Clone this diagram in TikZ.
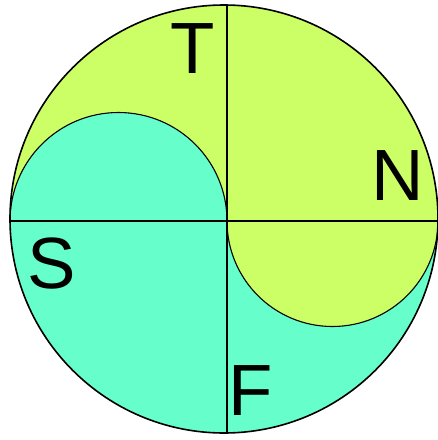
\documentclass[tikz,border=0pt]{standalone}
\usepackage{fontspec}
\setmainfont{Liberation Sans}
\usetikzlibrary{positioning}
\definecolor{tfLime}{HTML}{CCFF66}
\definecolor{tfAqua}{HTML}{66FFCC}
\tikzset{
  rimline/.style   = {black, line width=1.6pt},
  splitline/.style = {black, line width=1.1pt},
  letter/.style    = {inner sep=0pt, font=\fontsize{72.6}{80}\selectfont},
}
\begin{document}
\begin{tikzpicture}[x=1pt, y=-1pt]
  \useasboundingbox (0,0) rectangle (438,440);
  % whole disc in aqua, upper half in lime
  \fill[tfAqua] (224,219) circle (214);
  \begin{scope}
    \clip (224,219) circle (214);
    \fill[tfLime] (0,0) rectangle (438,221);
  \end{scope}
  % the two small half discs (y axis points down)
  \fill[tfAqua] (10,221) arc[start angle=180, end angle=360, radius=108.5] -- cycle;
  \fill[tfLime] (227,221) arc[start angle=180, end angle=0, radius=105.5] -- cycle;
  % outlines
  \draw[splitline] (10,221) arc[start angle=180, end angle=360, radius=108.5];
  \draw[splitline] (227,221) arc[start angle=180, end angle=0, radius=105.5];
  \draw[splitline] (10,221) -- (438,221);
  \draw[splitline] (227,5) -- (227,433);
  \draw[rimline] (224,219) circle (214);
  % letters
  \node[letter] (t) at (193,49) {T};
  \node[letter] (n) at (398,176) {N};
  \node[letter] (s) at (52,264) {S};
  \node[letter] (f) at (251,391) {F};
\end{tikzpicture}
\end{document}
